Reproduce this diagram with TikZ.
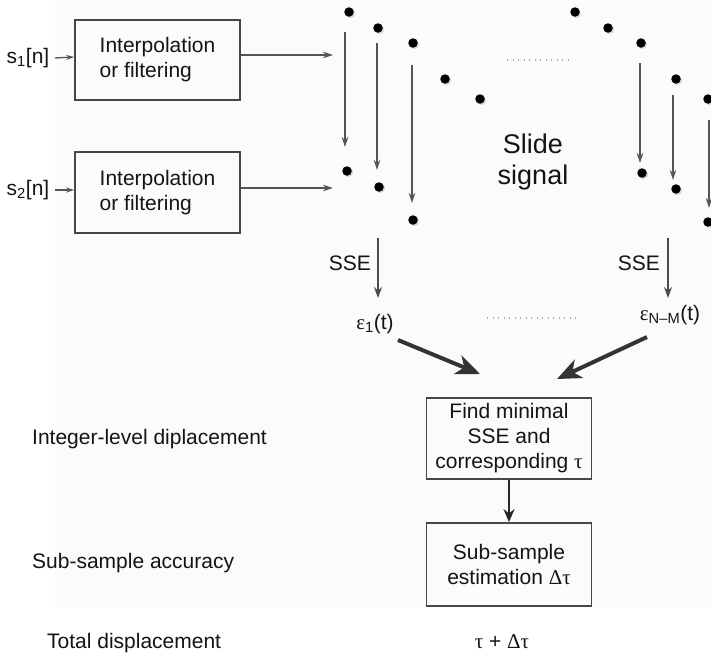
\documentclass[tikz,border=0pt]{standalone}
\usepackage{fontspec}
\setmainfont{Liberation Sans}
\newfontfamily\grk{Liberation Serif}
\usetikzlibrary{arrows.meta,shadows}

\definecolor{bgpale}{RGB}{251,251,251}
\definecolor{boxgray}{RGB}{70,70,70}
\definecolor{linegray}{RGB}{85,85,85}
\definecolor{dotgray}{RGB}{170,170,170}

\begin{document}
\begin{tikzpicture}[x=1pt,y=-1pt,
  every node/.style={font=\fontsize{21}{25}\selectfont, text=black!92, inner sep=0pt},
  procbox/.style={draw=boxgray, line width=1.7pt, minimum width=165pt, align=center},
  thinarrow/.style={draw=linegray, line width=1.3pt, -{Stealth[length=10pt,width=6.5pt]}},
  ssearrow/.style={draw=black!70, line width=1.4pt, -{Stealth[length=11pt,width=8pt]}},
  bigarrow/.style={draw=black!80, line width=4pt, -{Stealth[length=24pt,width=20pt,inset=7pt]}},
  sample/.style={circle, fill=black, minimum size=9.5pt,
                 drop shadow={shadow xshift=1.3pt, shadow yshift=-1.3pt, opacity=.3}},
  gapdots/.style={draw=dotgray, line width=1.1pt, dash pattern=on 1.2pt off 4.3pt}
]
\useasboundingbox (0,0) rectangle (711,656);
\fill[bgpale] (55,0) rectangle (711,607);

% --- input stage -------------------------------------------------------
\node (s1) at (28,58) {s\textsubscript{1}[n]};
\node (s2) at (28,190) {s\textsubscript{2}[n]};
\node[procbox, minimum height=80pt, align=left] (f1) at (157.5,60)
  {Interpolation\\or filtering};
\node[procbox, minimum height=81pt, align=left] (f2) at (157.5,192.5)
  {Interpolation\\or filtering};
\draw[thinarrow, -{Stealth[length=8pt,width=5pt]}] (s1.east -| 55,57) -- (f1.west |- 0,57);
\draw[thinarrow, -{Stealth[length=8pt,width=5pt]}] (s2.east -| 55,190) -- (f2.west |- 0,190);
\coordinate (o1) at (333,55);
\coordinate (o2) at (333,188);
\draw[thinarrow] (f1.east |- o1) -- (o1);
\draw[thinarrow] (f2.east |- o2) -- (o2);

% --- sampled signals ----------------------------------------------------
\foreach \n/\p in {t1/{349,12}, t2/{378,28}, t3/{413,43}, t4/{445,79}, t5/{480,99},
                   u1/{575,12}, u2/{608,28}, u3/{641,43}, u4/{676,79}, u5/{708,99},
                   b1/{347,171}, b2/{379,187}, b3/{413,220},
                   c1/{642,173}, c2/{676,189}, c3/{708,222}}
  \node[sample] (\n) at (\p) {};

% sliding arrows
\foreach \x/\ya/\yb in {345/32/147, 377/43/170, 412/65/203, 640/63/163, 673/95/180, 709/120/208}
  \draw[thinarrow] (\x,\ya) -- (\x,\yb);

\draw[gapdots] (507,60) -- (572,60);
\node[font=\fontsize{27}{31}\selectfont, align=center] (slide) at (533,162) {Slide\\signal};

% --- error terms --------------------------------------------------------
\node (e1) at (375,324) {{\grk ε}\textsubscript{1}(t)};
\node (e2) at (670,315) {{\grk ε}\textsubscript{N–M}(t)};
\coordinate (sa1) at (378,238);
\coordinate (sa2) at (668,238);
\draw[ssearrow] (sa1) -- (sa1 |- 0,298);
\draw[ssearrow] (sa2) -- (sa2 |- 0,298);
\node[anchor=east] (sse1) at (371,263) {SSE};
\node[anchor=east] (sse2) at (660,263) {SSE};
\draw[gapdots] (487,318) -- (578,318);

% --- decision chain -----------------------------------------------------
\node[procbox, minimum height=81pt] (fm) at (509,438.5)
  {Find minimal\\SSE and\\corresponding {\grk τ}};
\node[procbox, minimum height=83pt] (ss) at (509,564.5)
  {Sub-sample\\estimation {\grk Δτ}};
\coordinate (h1) at (480,374);
\coordinate (h2) at (557,379);
\draw[bigarrow] (398,340) -- (h1);
\draw[bigarrow] (647,337) -- (h2);
\draw[draw=black!85, line width=2.8pt, -{Stealth[length=13pt,width=11pt]}] (fm.south) -- (ss.north);
\node (tot) at (502,642) {{\grk τ} + {\grk Δτ}};

% --- level labels -------------------------------------------------------
\node[anchor=west] (l1) at (32,439) {Integer-level diplacement};
\node[anchor=west] (l2) at (32,563) {Sub-sample accuracy};
\node[anchor=west] (l3) at (47,643) {Total displacement};
\end{tikzpicture}
\end{document}
